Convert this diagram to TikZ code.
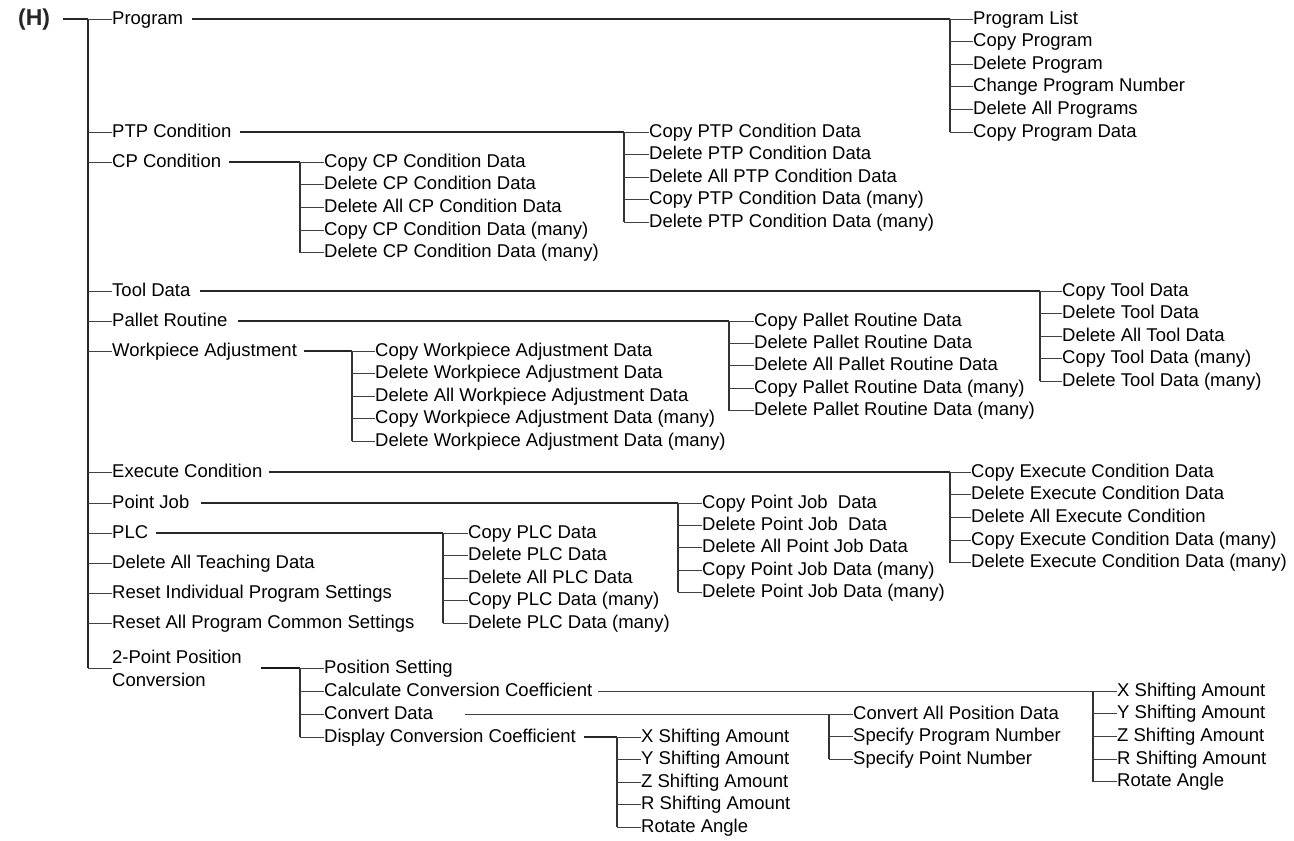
\documentclass[tikz,border=0pt]{standalone}
\usepackage{fontspec}
\setmainfont{Liberation Sans}
\begin{document}
\begin{tikzpicture}[x=1pt,y=-1pt,
  lbl/.style={anchor=west,inner sep=0pt,font=\fontsize{18.5}{23}\selectfont,text height=13.5pt,text depth=3.5pt},
  lbl2/.style={anchor=west,inner sep=0pt,font=\fontsize{18.5}{23}\selectfont,align=left},
  main/.style={draw=black!85,line width=1.8pt},
  trunk/.style={draw=black!85,line width=1.6pt},
  thintrunk/.style={draw=black!75,line width=1pt},
  bar/.style={draw=black!80,line width=1.3pt},
  tick/.style={draw=black!75,line width=0.9pt}]
\useasboundingbox (0,0) rectangle (1294,841);

% root
\node[anchor=west,inner sep=0pt,font=\fontsize{23}{25}\bfseries,text=black!85] (H) at (18,20) {(H)};
\coordinate (top) at (88,19);

% main items
\node[lbl] (m1) at (112,19) {Program};
\node[lbl] (m2) at (112,132) {PTP Condition};
\node[lbl] (m3) at (112,162) {CP Condition};
\node[lbl] (m4) at (112,291) {Tool Data};
\node[lbl] (m5) at (112,321) {Pallet Routine};
\node[lbl] (m6) at (112,351) {Workpiece Adjustment};
\node[lbl] (m7) at (112,472) {Execute Condition};
\node[lbl] (m8) at (112,503) {Point Job};
\node[lbl] (m9) at (112,533) {PLC};
\node[lbl] (m10) at (112,563) {Delete All Teaching Data};
\node[lbl] (m11) at (112,593) {Reset Individual Program Settings};
\node[lbl] (m12) at (112,623) {Reset All Program Common Settings};
\node[lbl2] (m13) at (112,668) {2-Point Position\\Conversion};

\draw[main] ([xshift=13]H.east |- top) -- (top);
\draw[main] (top) -- (top |- m13.west);
\foreach \n in {m1,m2,m3,m4,m5,m6,m7,m8,m9,m10,m11,m12,m13}
  \draw[tick] (top |- \n.west) -- (\n.west);

% Program
\node[lbl] (p1) at (973,19) {Program List};
\node[lbl] (p2) at (973,41.6) {Copy Program};
\node[lbl] (p3) at (973,64.2) {Delete Program};
\node[lbl] (p4) at (973,86.8) {Change Program Number};
\node[lbl] (p5) at (973,109.4) {Delete All Programs};
\node[lbl] (p6) at (973,132) {Copy Program Data};
\coordinate (bp) at (950,19);
\draw[trunk] ([xshift=9]m1.east) -- (bp);
\draw[bar] (bp) -- (bp |- p6.west);
\foreach \n in {p1,p2,p3,p4,p5,p6} \draw[tick] (bp |- \n.west) -- (\n.west);

% PTP
\node[lbl] (t1) at (649,132) {Copy PTP Condition Data};
\node[lbl] (t2) at (649,154.5) {Delete PTP Condition Data};
\node[lbl] (t3) at (649,177) {Delete All PTP Condition Data};
\node[lbl] (t4) at (649,199.5) {Copy PTP Condition Data (many)};
\node[lbl] (t5) at (649,222) {Delete PTP Condition Data (many)};
\coordinate (bt) at (624,132);
\draw[trunk] ([xshift=8]m2.east) -- (bt);
\draw[bar] (bt) -- (bt |- t5.west);
\foreach \n in {t1,t2,t3,t4,t5} \draw[tick] (bt |- \n.west) -- (\n.west);

% CP
\node[lbl] (c1) at (324,162) {Copy CP Condition Data};
\node[lbl] (c2) at (324,184.7) {Delete CP Condition Data};
\node[lbl] (c3) at (324,207.3) {Delete All CP Condition Data};
\node[lbl] (c4) at (324,230) {Copy CP Condition Data (many)};
\node[lbl] (c5) at (324,252.7) {Delete CP Condition Data (many)};
\coordinate (bc) at (300,162);
\draw[trunk] ([xshift=8]m3.east) -- (bc);
\draw[bar] (bc) -- (bc |- c5.west);
\foreach \n in {c1,c2,c3,c4,c5} \draw[tick] (bc |- \n.west) -- (\n.west);

% Tool
\node[lbl] (o1) at (1062,291) {Copy Tool Data};
\node[lbl] (o2) at (1062,313.5) {Delete Tool Data};
\node[lbl] (o3) at (1062,336) {Delete All Tool Data};
\node[lbl] (o4) at (1062,358.5) {Copy Tool Data (many)};
\node[lbl] (o5) at (1062,381) {Delete Tool Data (many)};
\coordinate (bo) at (1040,291);
\draw[trunk] ([xshift=9]m4.east) -- (bo);
\draw[bar] (bo) -- (bo |- o5.west);
\foreach \n in {o1,o2,o3,o4,o5} \draw[tick] (bo |- \n.west) -- (\n.west);

% Pallet
\node[lbl] (r1) at (754,321) {Copy Pallet Routine Data};
\node[lbl] (r2) at (754,343.4) {Delete Pallet Routine Data};
\node[lbl] (r3) at (754,365.8) {Delete All Pallet Routine Data};
\node[lbl] (r4) at (754,388.2) {Copy Pallet Routine Data (many)};
\node[lbl] (r5) at (754,410.6) {Delete Pallet Routine Data (many)};
\coordinate (br) at (729,321);
\draw[trunk] ([xshift=10]m5.east) -- (br);
\draw[bar] (br) -- (br |- r5.west);
\foreach \n in {r1,r2,r3,r4,r5} \draw[tick] (br |- \n.west) -- (\n.west);

% Workpiece
\node[lbl] (w1) at (375,351) {Copy Workpiece Adjustment Data};
\node[lbl] (w2) at (375,373.6) {Delete Workpiece Adjustment Data};
\node[lbl] (w3) at (375,396.2) {Delete All Workpiece Adjustment Data};
\node[lbl] (w4) at (375,418.8) {Copy Workpiece Adjustment Data (many)};
\node[lbl] (w5) at (375,441.4) {Delete Workpiece Adjustment Data (many)};
\coordinate (bw) at (352,351);
\draw[trunk] ([xshift=7]m6.east) -- (bw);
\draw[bar] (bw) -- (bw |- w5.west);
\foreach \n in {w1,w2,w3,w4,w5} \draw[tick] (bw |- \n.west) -- (\n.west);

% Execute
\node[lbl] (e1) at (971,472) {Copy Execute Condition Data};
\node[lbl] (e2) at (971,494.7) {Delete Execute Condition Data};
\node[lbl] (e3) at (971,517.3) {Delete All Execute Condition};
\node[lbl] (e4) at (971,540) {Copy Execute Condition Data (many)};
\node[lbl] (e5) at (971,562.7) {Delete Execute Condition Data (many)};
\coordinate (be) at (950,472);
\draw[trunk] ([xshift=6]m7.east) -- (be);
\draw[bar] (be) -- (be |- e5.west);
\foreach \n in {e1,e2,e3,e4,e5} \draw[tick] (be |- \n.west) -- (\n.west);

% Point Job
\node[lbl] (j1) at (702,503) {Copy Point Job\ \ Data};
\node[lbl] (j2) at (702,525.3) {Delete Point Job\ \ Data};
\node[lbl] (j3) at (702,547.6) {Delete All Point Job Data};
\node[lbl] (j4) at (702,570) {Copy Point Job Data (many)};
\node[lbl] (j5) at (702,592.3) {Delete Point Job Data (many)};
\coordinate (bj) at (678,503);
\draw[trunk] ([xshift=11]m8.east) -- (bj);
\draw[bar] (bj) -- (bj |- j5.west);
\foreach \n in {j1,j2,j3,j4,j5} \draw[tick] (bj |- \n.west) -- (\n.west);

% PLC
\node[lbl] (l1) at (468,533) {Copy PLC Data};
\node[lbl] (l2) at (468,555.5) {Delete PLC Data};
\node[lbl] (l3) at (468,578) {Delete All PLC Data};
\node[lbl] (l4) at (468,600.5) {Copy PLC Data (many)};
\node[lbl] (l5) at (468,623) {Delete PLC Data (many)};
\coordinate (bl) at (443,533);
\draw[trunk] ([xshift=8]m9.east) -- (bl);
\draw[bar] (bl) -- (bl |- l5.west);
\foreach \n in {l1,l2,l3,l4,l5} \draw[tick] (bl |- \n.west) -- (\n.west);

% 2-Point
\node[lbl] (q1) at (324,668) {Position Setting};
\node[lbl] (q2) at (324,691) {Calculate Conversion Coefficient};
\node[lbl] (q3) at (324,714) {Convert Data};
\node[lbl] (q4) at (324,737) {Display Conversion Coefficient};
\coordinate (bq) at (300,668);
\draw[draw=black!90,line width=2.2pt] ([xshift=19]m13.east) -- (bq);
\draw[bar] (bq) -- (bq |- q4.west);
\foreach \n in {q1,q2,q3,q4} \draw[tick] (bq |- \n.west) -- (\n.west);

% Calculate
\node[lbl] (a1) at (1117,691) {X Shifting Amount};
\node[lbl] (a2) at (1117,713.7) {Y Shifting Amount};
\node[lbl] (a3) at (1117,736.4) {Z Shifting Amount};
\node[lbl] (a4) at (1117,759) {R Shifting Amount};
\node[lbl] (a5) at (1117,781.7) {Rotate Angle};
\coordinate (ba) at (1093,691);
\draw[thintrunk] ([xshift=6]q2.east) -- (ba);
\draw[bar] (ba) -- (ba |- a5.west);
\foreach \n in {a1,a2,a3,a4,a5} \draw[tick] (ba |- \n.west) -- (\n.west);

% Convert
\node[lbl] (v1) at (853,714) {Convert All Position Data};
\node[lbl] (v2) at (853,736.7) {Specify Program Number};
\node[lbl] (v3) at (853,759.4) {Specify Point Number};
\coordinate (bv) at (829,714);
\draw[thintrunk] ([xshift=32]q3.east) -- (bv);
\draw[bar] (bv) -- (bv |- v3.west);
\foreach \n in {v1,v2,v3} \draw[tick] (bv |- \n.west) -- (\n.west);

% Display
\node[lbl] (d1) at (641,737) {X Shifting Amount};
\node[lbl] (d2) at (641,759.5) {Y Shifting Amount};
\node[lbl] (d3) at (641,782) {Z Shifting Amount};
\node[lbl] (d4) at (641,804.5) {R Shifting Amount};
\node[lbl] (d5) at (641,827) {Rotate Angle};
\coordinate (bd) at (617,737);
\draw[trunk] ([xshift=8]q4.east) -- (bd);
\draw[bar] (bd) -- (bd |- d5.west);
\foreach \n in {d1,d2,d3,d4,d5} \draw[tick] (bd |- \n.west) -- (\n.west);
\end{tikzpicture}
\end{document}
